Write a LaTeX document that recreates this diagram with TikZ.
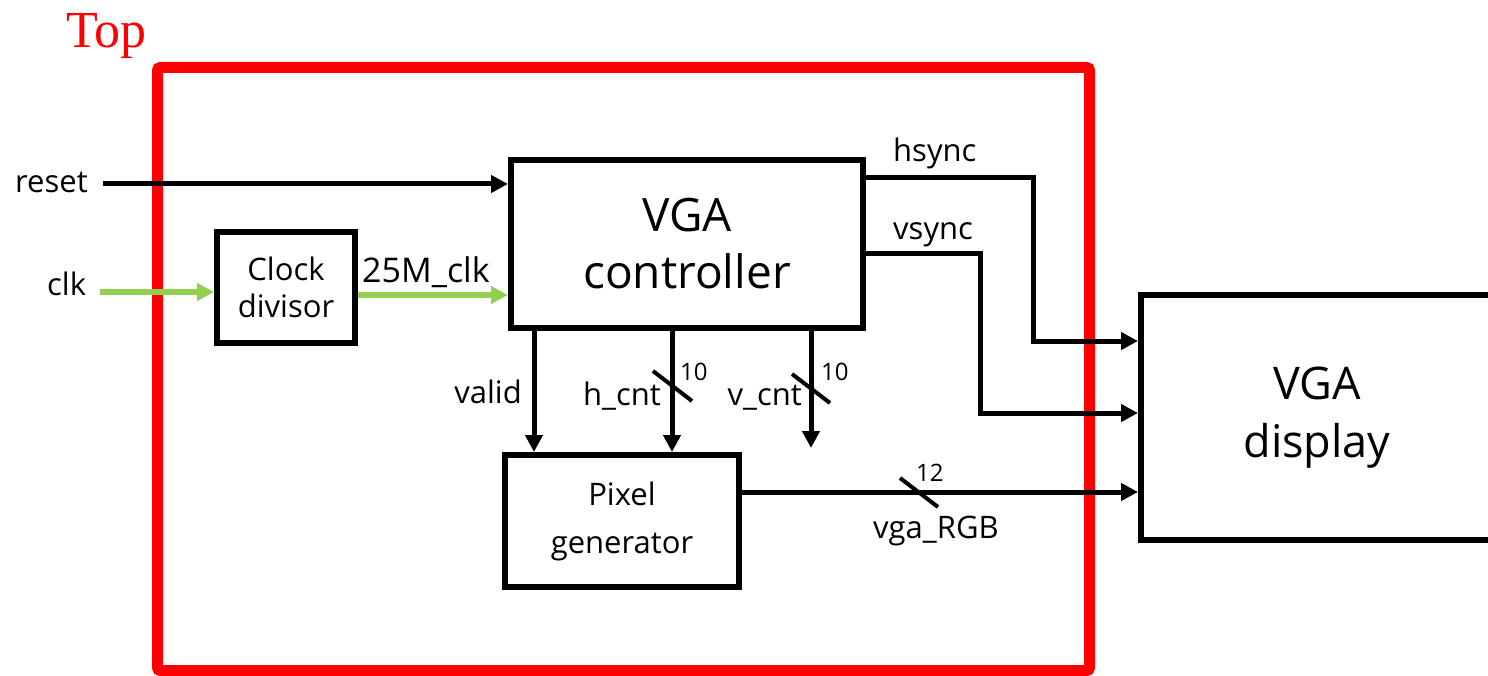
\documentclass[tikz,border=0pt]{standalone}
\usepackage{fontspec}
\setmainfont{Open Sans}
\newfontfamily\topserif{Liberation Serif}
\usetikzlibrary{arrows.meta}
\definecolor{clkgreen}{RGB}{146,208,80}

\begin{document}
\begin{tikzpicture}[
  x=1pt, y=-1pt,
  box/.style={rectangle, draw=black, line width=6pt, align=center, inner sep=0pt},
  frame/.style={draw=red, line width=11pt, rounded corners=3pt},
  arrow/.style={-{Triangle[length=17pt, width=17pt]}, line width=5pt},
  clkarrow/.style={arrow, draw=clkgreen, line width=6pt},
  slash/.style={line width=4pt},
  lbl/.style={font=\fontsize{31}{37}\selectfont, inner sep=0pt},
  bits/.style={font=\fontsize{24}{28}\selectfont, inner sep=0pt}
]
\useasboundingbox (0,0) rectangle (1488,676);
\clip (0,0) rectangle (1488,676);

% ---- Top frame ----
\draw[frame] (157.5,67.5) rectangle (1089.5,670.5);
\node[font=\topserif\fontsize{52}{60}\selectfont, text=red, anchor=base west,
      inner sep=0pt] (top_lbl) at (66,48) {Top};

% ---- Blocks ----
\node[box, minimum width=352pt, minimum height=168pt, font=\fontsize{46}{57}\selectfont]
  (ctrl) at (687,244) {VGA\\controller};
\node[box, minimum width=138pt, minimum height=111pt, font=\fontsize{31}{37}\selectfont]
  (clk_div) at (286,287.5) {Clock\\divisor};
\node[box, minimum width=234pt, minimum height=132pt, font=\fontsize{31}{48}\selectfont]
  (pix_gen) at (622,521) {Pixel\\generator};
\node[box, minimum width=352pt, minimum height=245pt, font=\fontsize{45}{58}\selectfont]
  (vga_disp) at (1317,417.5) {VGA\\display};

% ---- Inputs ----
\coordinate (reset_in) at (103,184);
\coordinate (clk_in)   at (100,292);
\coordinate (clk25)    at (358,295);

\draw[arrow]    (reset_in) -- (reset_in -| ctrl.west);
\draw[clkarrow] (clk_in)   -- (clk_in -| clk_div.west);
\draw[clkarrow] (clk_div.east |- clk25) -- (ctrl.west |- clk25);

\node[lbl, anchor=base west] (reset_lbl) at (15,193)  {reset};
\node[lbl, anchor=base west] (clk_lbl)   at (47,295)  {clk};
\node[lbl, anchor=base west, font=\fontsize{34}{40}\selectfont]
  (clk25_lbl) at (362,283) {25M\_clk};

% ---- Sync outputs ----
\draw[arrow] (ctrl.east |- 0,178) -- (1033,178) -- (1033,341) -- (vga_disp.west |- 0,341);
\draw[arrow] (ctrl.east |- 0,254) -- (980,254) -- (980,413) -- (vga_disp.west |- 0,413);

\node[lbl, anchor=base west] (hsync_lbl) at (893,162) {hsync};
\node[lbl, anchor=base west] (vsync_lbl) at (893,240) {vsync};

% ---- Counters ----
\coordinate (vcnt_end) at (811,448);

\draw[arrow] (ctrl.south -| 534,0) -- (pix_gen.north -| 534,0);
\draw[arrow] (ctrl.south -| 672,0) -- (pix_gen.north -| 672,0);
\draw[arrow] (ctrl.south -| 811,0) -- (vcnt_end);
\draw[slash] (653,371) -- (692,401);
\draw[slash] (792,374) -- (830,403);

\node[lbl, anchor=base east]  (valid_lbl) at (522,403) {valid};
\node[lbl, anchor=base east]  (hcnt_lbl)  at (661,405) {h\_cnt};
\node[lbl, anchor=base east]  (vcnt_lbl)  at (802,405) {v\_cnt};
\node[bits, anchor=base west] (hcnt_bits) at (680,380) {10};
\node[bits, anchor=base west] (vcnt_bits) at (821,380) {10};

% ---- RGB output ----
\draw[arrow] (pix_gen.east |- 0,492) -- (vga_disp.west |- 0,492);
\draw[slash] (900,478) -- (938,507);

\node[bits, anchor=base west] (rgb_bits) at (916,481) {12};
\node[lbl, anchor=base west]  (rgb_lbl)  at (873,538) {vga\_RGB};

\end{tikzpicture}
\end{document}
